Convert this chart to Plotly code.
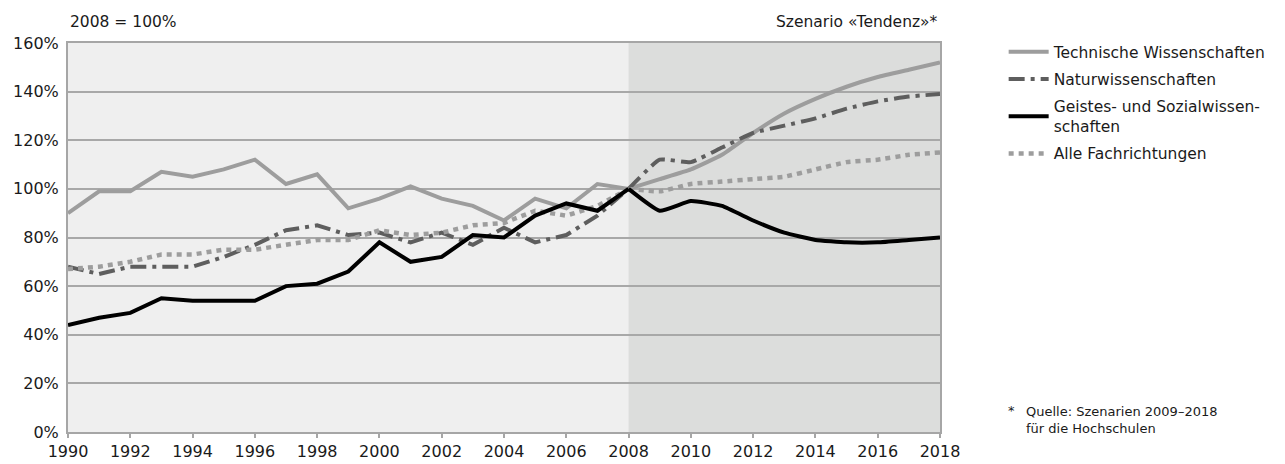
import plotly.graph_objects as go

years = list(range(1990, 2019))
technische = [90, 99, 99, 107, 105, 108, 112, 102, 106, 92, 96, 101, 96, 93, 87, 96, 92, 102, 100,
              104, 108, 114, 123, 131, 137, 142, 146, 149, 152]
natur = [68, 65, 68, 68, 68, 72, 77, 83, 85, 81, 82, 78, 82, 77, 84, 78, 81, 89, 100,
         112, 111, 117, 123, 126, 129, 133, 136, 138, 139]
geistes = [44, 47, 49, 55, 54, 54, 54, 60, 61, 66, 78, 70, 72, 81, 80, 89, 94, 91, 100,
           91, 95, 93, 87, 82, 79, 78, 78, 79, 80]
alle = [67, 68, 70, 73, 73, 75, 75, 77, 79, 79, 83, 81, 82, 85, 86, 91, 89, 93, 100,
        99, 102, 103, 104, 105, 108, 111, 112, 114, 115]

base_year = 2008
y_ticks = [0, 20, 40, 60, 80, 100, 120, 140, 160]
x_ticks = list(range(1990, 2019, 2))

FONT = "DejaVu Sans"
series = [
    ("Technische Wissenschaften", technische, "#9D9D9D", 4, "solid", 1),
    ("Naturwissenschaften", natur, "#5E5E5E", 4, "16px,6px,4px,6px", 2),
    ("Alle Fachrichtungen", alle, "#9D9D9D", 4.5, "5px,5px", 4),
    ("Geistes- und Sozialwissen-<br>schaften", geistes, "#000000", 4, "solid", 3),
]

idx = years.index(base_year)
fig = go.Figure()
for name, vals, color, w, dash, rank in series:
    fig.add_trace(go.Scatter(
        x=years[:idx + 1], y=vals[:idx + 1], mode="lines", name=name,
        line=dict(color=color, width=w, dash=dash), legendgroup=name, legendrank=rank,
        hoverinfo="skip"))
    fig.add_trace(go.Scatter(
        x=years[idx:], y=vals[idx:], mode="lines", name=name, showlegend=False,
        line=dict(color=color, width=w, dash=dash, shape="spline", smoothing=0.4),
        legendgroup=name, hoverinfo="skip"))

fig.add_shape(type="rect", xref="x", yref="y", x0=base_year, x1=years[-1], y0=0, y1=160,
              fillcolor="#DCDDDC", line_width=0, layer="below")

# the page body adds an 8px margin, so the figure is 8px smaller and margins shifted
fig.update_layout(
    width=1277, height=456,
    margin=dict(l=60, r=345, t=35, b=32, autoexpand=False),
    paper_bgcolor="white", plot_bgcolor="#EFEFEF",
    font=dict(family=FONT, size=16, color="#1a1a1a"),
    showlegend=True,
    legend=dict(x=1.073, y=1.02, xanchor="left", yanchor="top",
                font=dict(size=15.5, family=FONT), bgcolor="rgba(0,0,0,0)",
                tracegroupgap=4, itemwidth=40),
)
fig.update_xaxes(range=[1990, 2018], tickvals=x_ticks, ticktext=[str(t) for t in x_ticks],
                 showgrid=False, showline=True, linecolor="#A6A6A6", linewidth=2, mirror=True,
                 ticks="outside", ticklen=4, tickcolor="#A6A6A6", tickwidth=1.5, zeroline=False,
                 tickfont=dict(size=16), automargin=False)
fig.update_yaxes(range=[0, 160], tickvals=y_ticks, ticktext=[f"{t}%" for t in y_ticks],
                 showgrid=True, gridcolor="#A8A8A8", gridwidth=1.5,
                 showline=True, linecolor="#A6A6A6", linewidth=2, mirror=True,
                 ticks="", zeroline=False, tickfont=dict(size=16), ticklabelstandoff=4,
                 automargin=False)

fig.add_annotation(text="2008 = 100%", xref="paper", yref="paper", x=0, y=1.055,
                   xanchor="left", yanchor="middle", showarrow=False, font=dict(size=15.5))
fig.add_annotation(text="Szenario «Tendenz»*", xref="paper", yref="paper", x=1.0, y=1.055,
                   xanchor="right", yanchor="middle", showarrow=False, font=dict(size=15.5))
fig.add_annotation(text="*", xref="paper", yref="paper", x=1.076, y=0.055,
                   xanchor="left", yanchor="middle", showarrow=False, font=dict(size=13))
fig.add_annotation(text="Quelle: Szenarien 2009–2018<br>für die Hochschulen", xref="paper", yref="paper",
                   x=1.096, y=0.03, xanchor="left", yanchor="middle", align="left",
                   showarrow=False, font=dict(size=13))

fig.write_html("out.html")
